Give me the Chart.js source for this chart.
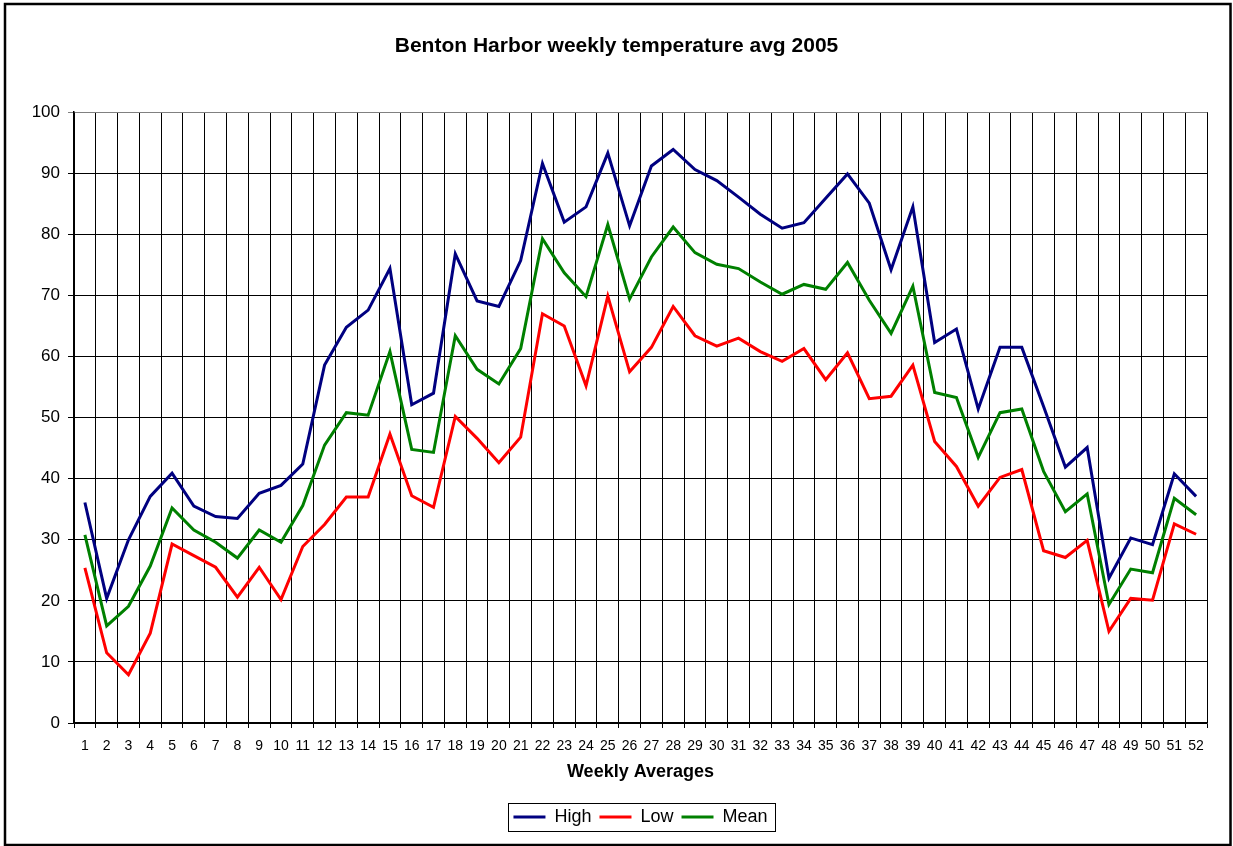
<!DOCTYPE html>
<html>
<head>
<meta charset="utf-8">
<script src="https://cdn.jsdelivr.net/npm/chart.js@4.4.1/dist/chart.umd.min.js"></script>
<style>
  html, body { margin: 0; padding: 0; background: #fff; }
  #wrap { position: relative; width: 1233px; height: 846px; }
</style>
</head>
<body>
<div id="wrap"><canvas id="mychart" width="1233" height="846"></canvas></div>
<script>
// weekly averages
var weeks = [];
for (var w = 1; w <= 52; w++) weeks.push(String(w));

var high = [36.1, 20.4, 30.0, 37.1, 40.9, 35.5, 33.8, 33.5, 37.6, 38.9, 42.4,
  58.6, 64.8, 67.6, 74.4, 52.1, 54.0, 76.8, 69.1, 68.2, 75.7, 91.6, 82.0, 84.5, 93.3,
  81.4, 91.2, 93.9, 90.6, 88.8, 86.1, 83.3, 81.0, 81.9, 85.9, 89.9, 85.1,
  74.2, 84.5, 62.3, 64.5, 51.4, 61.5, 61.5, 51.8, 41.9, 45.1, 23.7, 30.3, 29.2, 40.8, 37.1];
var low = [25.4, 11.5, 7.9, 14.7, 29.3, 27.4, 25.5, 20.6, 25.5, 20.2, 28.9,
  32.5, 37.0, 37.0, 47.3, 37.2, 35.3, 50.2, 46.6, 42.6, 46.8, 67.0, 65.0, 55.2, 69.9,
  57.5, 61.5, 68.2, 63.4, 61.7, 63.0, 60.8, 59.2, 61.3, 56.2, 60.6, 53.1,
  53.5, 58.6, 46.1, 42.0, 35.5, 40.2, 41.5, 28.2, 27.1, 29.9, 15.0, 20.4, 20.1, 32.6, 30.9];
var mean = [30.8, 15.9, 19.1, 25.7, 35.2, 31.6, 29.6, 27.0, 31.6, 29.6, 35.6,
  45.5, 50.8, 50.4, 60.8, 44.8, 44.3, 63.4, 57.9, 55.5, 61.3, 79.3, 73.7, 69.8, 81.6,
  69.4, 76.3, 81.2, 77.0, 75.1, 74.4, 72.2, 70.2, 71.8, 71.0, 75.4, 69.2,
  63.8, 71.5, 54.1, 53.3, 43.5, 50.8, 51.4, 41.2, 34.6, 37.5, 19.4, 25.2, 24.6, 36.8, 34.1];

var FONT = "'Liberation Sans', Arial, sans-serif";

// outer frame, legend centred under the plot, box round the legend
var extras = {
  id: 'extras',
  afterLayout: function (chart) {
    var lg = chart.legend;
    lg.left = chart.chartArea.left;
    lg.right = chart.chartArea.right;
  },
  afterDraw: function (chart) {
    var ctx = chart.ctx;
    ctx.save();
    ctx.strokeStyle = '#000';
    ctx.lineWidth = 2.5;
    ctx.strokeRect(5, 4, 1225.5, 841);

    var boxes = chart.legend.legendHitBoxes;
    if (boxes && boxes.length) {
      var first = boxes[0], last = boxes[boxes.length - 1];
      var cy = first.top + first.height / 2;
      ctx.lineWidth = 1;
      ctx.strokeRect(Math.round(first.left - 5) + 0.5, Math.round(cy - 14) + 0.5,
        Math.round(last.left + last.width - first.left + 13), 28);
    }
    ctx.restore();
  }
};

var ctx = document.getElementById('mychart').getContext('2d');
var chart = new Chart(ctx, {
  type: 'line',
  data: {
    labels: weeks,
    datasets: [
      { label: 'High', data: high, borderColor: '#000080', backgroundColor: '#000080', borderWidth: 3 },
      { label: 'Low', data: low, borderColor: '#ff0000', backgroundColor: '#ff0000', borderWidth: 3 },
      { label: 'Mean', data: mean, borderColor: '#008000', backgroundColor: '#008000', borderWidth: 3 }
    ]
  },
  options: {
    responsive: false,
    animation: false,
    devicePixelRatio: 1,
    layout: { padding: { left: 26, right: 26, top: 0, bottom: 10 } },
    elements: {
      line: { borderWidth: 3, tension: 0 },
      point: { radius: 0, hoverRadius: 0 }
    },
    plugins: {
      title: {
        display: true,
        text: 'Benton Harbor weekly temperature avg 2005',
        color: '#000',
        font: { family: FONT, size: 21, weight: 'bold' },
        padding: { top: 34, bottom: 53 }
      },
      legend: {
        position: 'bottom',
        labels: {
          color: '#000',
          font: { family: FONT, size: 18 },
          usePointStyle: true,
          pointStyle: 'line',
          pointStyleWidth: 32,
          padding: 8
        }
      },
      tooltip: { enabled: false }
    },
    scales: {
      x: {
        offset: true,
        grid: {
          offset: true,
          color: function (c) { return c.index === 52 ? '#808080' : '#000'; },
          lineWidth: 1,
          tickLength: 5
        },
        border: { color: '#000', width: 1.5 },
        ticks: {
          color: '#000',
          font: { family: FONT, size: 14 },
          maxRotation: 0,
          autoSkip: false,
          padding: 10
        },
        title: {
          display: true,
          text: 'Weekly Averages',
          color: '#000',
          font: { family: FONT, size: 18, weight: 'bold' },
          padding: { top: 0, bottom: 17 }
        },
        afterFit: function (scale) { scale.height = 77; }
      },
      y: {
        min: 0,
        max: 100,
        grid: {
          color: function (c) { return c.tick && c.tick.value === 100 ? '#808080' : '#000'; },
          lineWidth: 1,
          tickLength: 6
        },
        border: { color: '#000', width: 1.5 },
        ticks: {
          stepSize: 10,
          color: '#000',
          font: { family: FONT, size: 17 },
          padding: 8
        },
        afterFit: function (scale) { scale.width = 48; }
      }
    }
  },
  plugins: [extras]
});
</script>
</body>
</html>
